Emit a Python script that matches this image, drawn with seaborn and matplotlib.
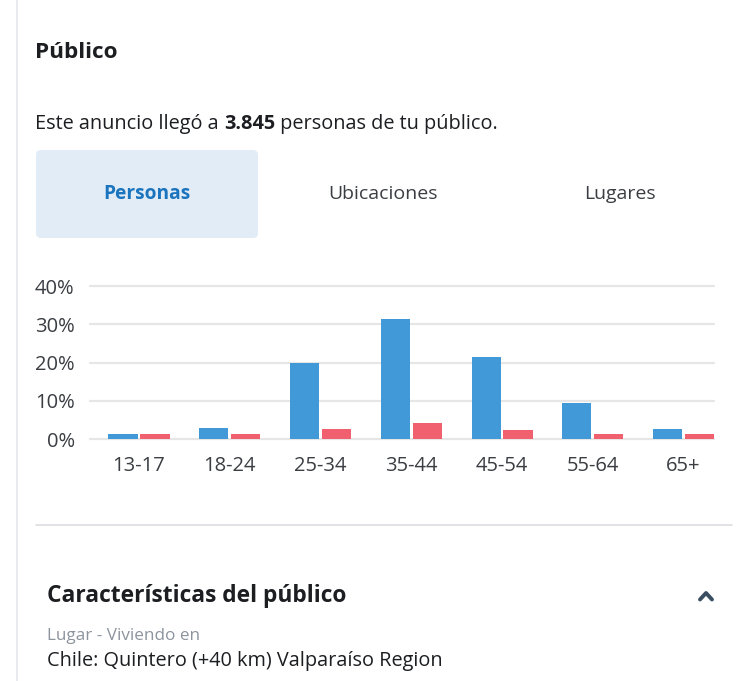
import numpy as np
import pandas as pd
import seaborn as sns
import matplotlib.pyplot as plt
from matplotlib.patches import FancyBboxPatch

# Age groups and share of reached people (%)
ages = ['13-17', '18-24', '25-34', '35-44', '45-54', '55-64', '65+']
hombres = [1.5, 3.0, 19.9, 31.4, 21.6, 9.6, 2.7]
mujeres = [1.5, 1.5, 2.7, 4.2, 2.4, 1.5, 1.5]
y_ticks = [0, 10, 20, 30, 40]

df = pd.DataFrame({
    'Edad': ages * 2,
    'Valor': hombres + mujeres,
    'Sexo': ['Hombres'] * len(ages) + ['Mujeres'] * len(ages),
})

sns.set_style('white')
plt.rcParams['font.family'] = ['Open Sans', 'DejaVu Sans']

W, H = 750, 681
fig = plt.figure(figsize=(W / 100, H / 100), dpi=100)

# overlay in pixel coordinates for the card elements
bg = fig.add_axes([0, 0, 1, 1], zorder=0)
bg.set_xlim(0, W)
bg.set_ylim(H, 0)
bg.axis('off')

dark = '#1c1e21'
text_col = '#3a3d42'

# card border
bg.plot([17, 17], [0, H], color='#e4e6eb', lw=1.2)

bg.text(35, 52, 'Público', fontsize=16.2, fontweight='bold', color=dark, va='center')

# sentence with bold number
fig.canvas.draw()
r = fig.canvas.get_renderer()
x = 35
for part, fw in [('Este anuncio llegó a ', 'normal'), ('3.845', 'bold'),
                 (' personas de tu público.', 'normal')]:
    t = bg.text(x, 124, part, fontsize=14.3, fontweight=fw, color=dark, va='center')
    ext = t.get_window_extent(renderer=r)
    x += ext.width

# tabs
bg.add_patch(FancyBboxPatch((36, 150), 222, 88, boxstyle='round,pad=0,rounding_size=5',
                            fc='#e1ecf7', ec='none'))
bg.text(147, 194, 'Personas', fontsize=13.8, fontweight='bold', color='#1a74be',
        ha='center', va='center')
bg.text(383, 194, 'Ubicaciones', fontsize=14, color=text_col, ha='center', va='center')
bg.text(620, 194, 'Lugares', fontsize=14, color=text_col, ha='center', va='center')

# separator
bg.plot([36, 732], [525, 525], color='#dadde1', lw=1.2)

bg.text(47, 596, 'Características del público', fontsize=16.4, fontweight='bold',
        color=dark, va='center')
bg.plot([700, 706, 712], [599.5, 593, 599.5], color='#3b4f63', lw=2.8,
        solid_capstyle='round', solid_joinstyle='round')
bg.text(47, 636, 'Lugar - Viviendo en', fontsize=12.3, color='#8d949e', va='center')
bg.text(47, 661, 'Chile: Quintero (+40 km) Valparaíso Region', fontsize=14.3,
        color=dark, va='center')

# bar chart
left, right = 90, 714
top, bottom = 286, 439.3
ax = fig.add_axes([left / W, 1 - bottom / H, (right - left) / W, (bottom - top) / H], zorder=1)
ax.patch.set_alpha(0)
sns.barplot(data=df, x='Edad', y='Valor', hue='Sexo', order=ages,
            palette=['#4299d7', '#f0606e'], saturation=1, width=0.704, gap=0.09,
            linewidth=0, legend=False, ax=ax, zorder=3)

ax.set_xlim(-0.54, 6.336)
ax.set_ylim(0, 40)
ax.set_yticks(y_ticks)
ax.set_yticklabels([f'{v}%' for v in y_ticks])
ax.set_xlabel('')
ax.set_ylabel('')
for s in ax.spines.values():
    s.set_visible(False)
ax.grid(axis='y', color='#e6e6e6', lw=1.6, zorder=0)
ax.set_axisbelow(True)
for gl in ax.get_ygridlines():
    gl.set_clip_on(False)
ax.tick_params(axis='both', length=0, labelsize=14.5, colors='#3a3d42')
ax.tick_params(axis='y', pad=11)
ax.tick_params(axis='x', pad=12)

fig.savefig('out.png', dpi=100)
